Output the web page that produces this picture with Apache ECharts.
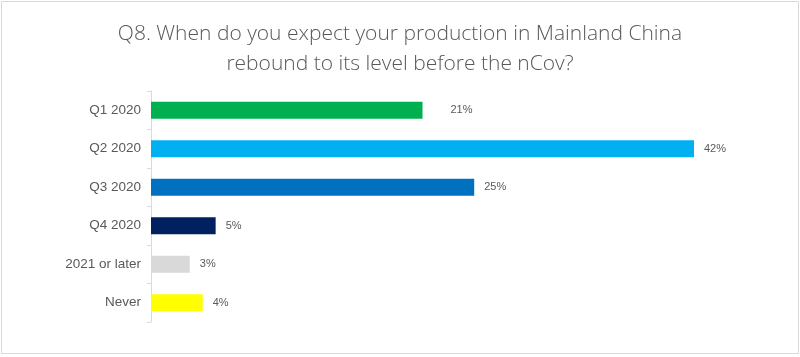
<!DOCTYPE html>
<html><head><meta charset="utf-8">
<script src="https://cdn.jsdelivr.net/npm/echarts@6/dist/echarts.min.js"></script>
<style>html,body{margin:0;padding:0;background:#fff}#c{width:800px;height:357px}</style>
</head><body><div id="c"></div>
<script>
const categories = ['Q1 2020','Q2 2020','Q3 2020','Q4 2020','2021 or later','Never'];
const values = [21, 42, 25, 5, 3, 4];
const colors = ['#00B050','#00B0F0','#0070C0','#002060','#D9D9D9','#FFFF00'];
const titleLines = ['Q8. When do you expect your production in Mainland China','rebound to its level before the nCov?'];

const chart = echarts.init(document.getElementById('c'), null, {renderer:'canvas'});
chart.setOption({
  animation:false,
  backgroundColor:'#fff',
  graphic:[{type:'rect',shape:{x:1.5,y:1.5,width:797,height:352},style:{fill:'none',stroke:'#D9D9D9',lineWidth:1}}],
  title:{text:titleLines.join('\n'),left:'center',top:14,textStyle:{fontFamily:'Open Sans',fontWeight:300,fontSize:21,color:'#595959',lineHeight:30}},
  grid:{left:151,right:106,top:91,bottom:35,containLabel:false},
  xAxis:{type:'value',min:0,max:42,show:false},
  yAxis:{type:'category',inverse:true,data:categories,
    axisLine:{lineStyle:{color:'#D9D9D9'}},
    axisTick:{show:true,length:4,alignWithLabel:false,lineStyle:{color:'#D9D9D9'}},
    axisLabel:{color:'#595959',fontSize:13.5,fontFamily:'Liberation Sans',margin:10},
    splitLine:{show:false}},
  series:[{type:'bar',barWidth:17,
    data:values.map((v,i)=>({value:v,itemStyle:{color:colors[i]},label:{distance:i===0?28:10}})),
    label:{show:true,position:'right',formatter:'{c}%',color:'#595959',fontSize:11,fontFamily:'Liberation Sans'}}]
});
</script></body></html>
